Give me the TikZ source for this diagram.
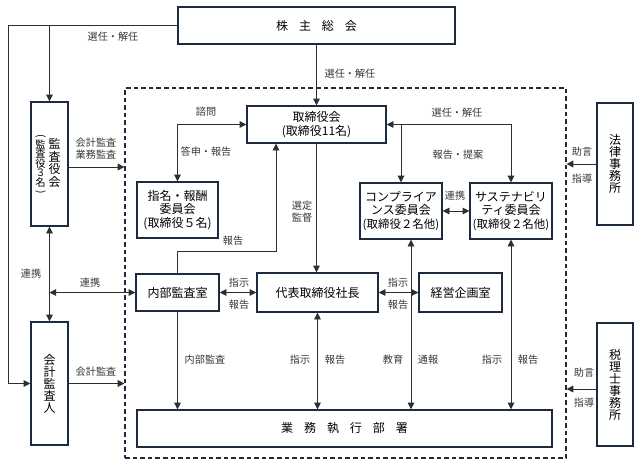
\documentclass[tikz,border=0pt]{standalone}
\usepackage{fontspec}
\setmainfont{Noto Sans CJK JP}
\usetikzlibrary{arrows.meta}
\definecolor{boxc}{HTML}{1C2B3F}
\definecolor{linec}{HTML}{2E2E2E}
\definecolor{labc}{HTML}{383838}
\begin{document}
\begin{tikzpicture}[x=0.75pt,y=-0.75pt,
 box/.style={draw=boxc, line width=1.1pt, fill=white, inner sep=0pt, align=center, font=\fontsize{9}{10.2}\selectfont, text=black},
 vbox/.style={box, font=\fontsize{9}{9}\selectfont},
 lab/.style={font=\fontsize{7.6}{9}\selectfont, text=labc, inner sep=0pt, align=center},
 conn/.style={draw=linec, line width=0.6pt},
 arr/.style={conn, -{Triangle[length=5pt,width=5pt]}},
 arrs/.style={conn, {Triangle[length=5pt,width=5pt]}-{Triangle[length=5pt,width=5pt]}},
 dashbox/.style={draw=boxc, line width=0.9pt, dash pattern=on 3.5pt off 2.2pt, inner sep=0pt}
]
\useasboundingbox (0,0) rectangle (641,467);
\fill[white] (0,0) rectangle (641,467);

% dashed frame
\node[dashbox, minimum width=330.75pt, minimum height=277.5pt] (dbox) at (345.5,273) {};

% boxes
\node[box, minimum width=207.75pt, minimum height=27.75pt] (sh) at (316.5,25.5) {株\hspace{8.2pt}主\hspace{8.2pt}総\hspace{8.2pt}会};
\node[box, minimum width=27.75pt, minimum height=93pt] (kansa) at (49.5,164) {};
\node[font={\fontsize{9}{9.6}\selectfont}, align=center, inner sep=0pt] (kansaA) at (54.5,163) {監\\査\\役\\会};
\node[inner sep=0pt, align=center, font={\fontsize{7.7}{7.1}\selectfont\lineskiplimit=-5pt\lineskip=0pt}] (kansaB) at (40.5,165) {\rotatebox[origin=c]{-90}{(}\\監\\査\\役\\３\\名\\\rotatebox[origin=c]{-90}{)}};
\node[vbox, minimum width=27.75pt, minimum height=92.25pt] (kaikei) at (49.5,383.5) {会\\計\\監\\査\\人};
\node[box, minimum width=104.25pt, minimum height=27.75pt] (tori) at (316.5,124.5) {取締役会\\(取締役11名)};
\node[box, minimum width=60.75pt, minimum height=42pt] (shimei) at (177.5,210) {指名・報酬\\委員会\\(取締役５名)};
\node[box, minimum width=62.25pt, minimum height=27.75pt] (naibu) at (177.5,292.5) {内部監査室};
\node[box, minimum width=90.75pt, minimum height=29.25pt] (daihyo) at (317.5,292.5) {代表取締役社長};
\node[box, minimum width=62.25pt, minimum height=29.25pt] (keiei) at (460.5,292.5) {経営企画室};
\node[box, minimum width=61.5pt, minimum height=42pt] (comp) at (401,211) {コンプライア\\ンス委員会\\{\fontsize{8.6}{10}\selectfont(取締役２名他)}};
\node[box, minimum width=61.5pt, minimum height=42pt] (sus) at (511,211) {サステナビリ\\ティ委員会\\{\fontsize{8.6}{10}\selectfont(取締役２名他)}};
\node[box, minimum width=311.25pt, minimum height=27.75pt] (gyomu) at (344.5,428.5) {業\hspace{8.2pt}務\hspace{8.2pt}執\hspace{8.2pt}行\hspace{8.2pt}部\hspace{8.2pt}署};
\node[vbox, minimum width=27pt, minimum height=91.5pt] (houritsu) at (615,164) {法\\律\\事\\務\\所};
\node[vbox, minimum width=27pt, minimum height=92.25pt] (zeiri) at (615,384.5) {税\\理\\士\\事\\務\\所};

% helper coordinates
\coordinate (lc) at (8,25.5);
\coordinate (k1) at (125,167);
\coordinate (r1) at (276,251);
\coordinate (cx) at (411,0);
\coordinate (z1) at (597,389);

% connectors
\draw[arr] (sh.west) -- (lc) |- (kaikei.west);
\draw[arr] (kansa.north |- sh.west) -- (kansa.north);
\draw[arr] (sh.south) -- (tori.north);
\draw[arr] (kansa.east |- k1) -- (dbox.west |- k1);
\draw[arr] (kaikei.east) -- (kaikei.east -| dbox.west);
\draw[arrs] (kansa.south) -- (kaikei.north);
\draw[arrs] (kansa.south |- naibu.west) -- (naibu.west);
\draw[arrs] (shimei.north) |- (tori.west);
\draw[arr] (naibu.north) |- (r1) -- (r1 |- tori.south);
\draw[arr] (tori.south) -- (tori.south |- daihyo.north);
\draw[arrs] (naibu.east) -- (daihyo.west);
\draw[arrs] (daihyo.east) -- (keiei.west);
\draw[arrs] (tori.east) -| (sus.north);
\draw[arr] (comp.north |- tori.east) -- (comp.north);
\draw[arrs] (comp.east) -- (sus.west);
\draw[arrs] (cx |- comp.south) -- (cx |- gyomu.north);
\draw[arrs] (sus.south) -- (sus.south |- gyomu.north);
\draw[arrs] (daihyo.south) -- (daihyo.south |- gyomu.north);
\draw[arr] (naibu.south) -- (naibu.south |- gyomu.north);
\draw[arr] (houritsu.west) -- (houritsu.west -| dbox.east);
\draw[arr] (z1) -- (z1 -| dbox.east);

% labels
\node[lab] (l1) at (113,37) {選任・解任};
\node[lab] (l2) at (350,74) {選任・解任};
\node[lab] (l3) at (96,148.5) {会計監査\\業務監査};
\node[lab] (l4) at (31,274) {連携};
\node[lab] (l5) at (90,283) {連携};
\node[lab] (l6) at (96,372) {会計監査};
\node[lab] (l7) at (206,112) {諮問};
\node[lab] (l8) at (206,152) {答申・報告};
\node[lab] (l9) at (233,241) {報告};
\node[lab] (l10) at (302,211.5) {選定\\監督};
\node[lab] (l11) at (239,283) {指示};
\node[lab] (l12) at (239,305) {報告};
\node[lab] (l13) at (398,283) {指示};
\node[lab] (l14) at (398,305) {報告};
\node[lab] (l15) at (457,113) {選任・解任};
\node[lab] (l16) at (458,155) {報告・提案};
\node[lab] (l17) at (455,196) {連携};
\node[lab] (l18) at (205,360) {内部監査};
\node[lab] (l19) at (300,360) {指示};
\node[lab] (l20) at (335,360) {報告};
\node[lab] (l21) at (393,360) {教育};
\node[lab] (l22) at (428,360) {通報};
\node[lab] (l23) at (492,360) {指示};
\node[lab] (l24) at (528,360) {報告};
\node[lab] (l25) at (582,152) {助言};
\node[lab] (l26) at (582,179) {指導};
\node[lab] (l27) at (584,373) {助言};
\node[lab] (l28) at (584,403) {指導};
\end{tikzpicture}
\end{document}
